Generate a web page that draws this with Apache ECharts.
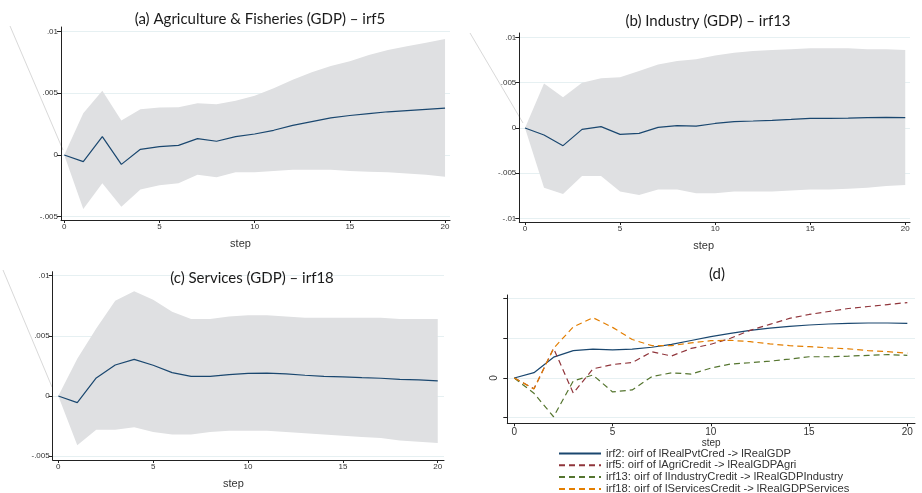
<!DOCTYPE html>
<html>
<head>
<meta charset="utf-8">
<script src="https://cdn.jsdelivr.net/npm/echarts@6/dist/echarts.min.js"></script>
<style>
html,body{margin:0;padding:0;background:#fff;}
#c{width:922px;height:493px;}
</style>
</head>
<body>
<div id="c"></div>
<script>
// ---- data ----
var steps = [0,1,2,3,4,5,6,7,8,9,10,11,12,13,14,15,16,17,18,19,20];
var xTicks = [0,5,10,15,20];
var yTicksAC = [-0.005,0,0.005,0.01];
var yTicksB = [-0.01,-0.005,0,0.005,0.01];
var yTicksD = [-0.002,0,0.002,0.004];
var yLabelsD = [0];

var titles = ['(a) Agriculture & Fisheries (GDP) \u2013 irf5','(b) Industry (GDP) \u2013 irf13','(c) Services (GDP) \u2013 irf18','(d)'];

var aIrf   = [0,-0.00054,0.00149,-0.00076,0.00046,0.00068,0.00078,0.00132,0.00111,0.00149,0.0017,0.002,0.0024,0.0027,0.003,0.0032,0.00335,0.0035,0.0036,0.0037,0.0038];
var aUpper = [0,0.00338,0.0052,0.0028,0.0037,0.00384,0.00386,0.0042,0.0041,0.0044,0.0048,0.0054,0.0061,0.0067,0.0072,0.0076,0.0081,0.0085,0.0088,0.0091,0.0094];
var aLower = [0,-0.00438,-0.0023,-0.0042,-0.0028,-0.00246,-0.0023,-0.0016,-0.0018,-0.0014,-0.0014,-0.0013,-0.0012,-0.0012,-0.0012,-0.0013,-0.00135,-0.0014,-0.0015,-0.0016,-0.00176];

var bIrf   = [0,-0.00077,-0.00195,-0.00015,0.00015,-0.0007,-0.0006,0.00007,0.00026,0.0002,0.0005,0.0007,0.00077,0.00085,0.00095,0.00107,0.00107,0.0011,0.00114,0.00118,0.00114];
var bUpper = [0,0.0049,0.0034,0.005,0.0055,0.0056,0.0063,0.007,0.0074,0.0076,0.008,0.0083,0.0085,0.0086,0.0087,0.0088,0.0088,0.0088,0.0087,0.0087,0.0086];
var bLower = [0,-0.0066,-0.0073,-0.0053,-0.0053,-0.007,-0.0074,-0.0068,-0.0068,-0.0072,-0.0072,-0.007,-0.007,-0.007,-0.0069,-0.0068,-0.0068,-0.0067,-0.0066,-0.0064,-0.0063];

var cIrf   = [0,-0.00055,0.0015,0.00257,0.00304,0.00255,0.00194,0.00163,0.00163,0.00177,0.00188,0.0019,0.00183,0.00172,0.00163,0.00158,0.00152,0.00147,0.00138,0.00133,0.00125];
var cUpper = [0,0.0031,0.0056,0.0079,0.0087,0.008,0.007,0.0064,0.0064,0.0066,0.0067,0.0067,0.0066,0.0065,0.0065,0.0065,0.0065,0.0065,0.0064,0.0064,0.0064];
var cLower = [0,-0.0041,-0.0028,-0.0028,-0.0026,-0.003,-0.0032,-0.0032,-0.003,-0.0029,-0.0029,-0.0029,-0.003,-0.0031,-0.0032,-0.0033,-0.0034,-0.0035,-0.0037,-0.0038,-0.0039];

var dIrf2  = [0,0.00027,0.00105,0.00138,0.00145,0.00142,0.00145,0.00155,0.00169,0.00189,0.00208,0.00225,0.0024,0.00251,0.0026,0.00267,0.00272,0.00275,0.00277,0.00277,0.00275];

var legendNames = [
  'irf2: oirf of lRealPvtCred -> lRealGDP',
  'irf5: oirf of lAgriCredit -> lRealGDPAgri',
  'irf13: oirf of lIndustryCredit -> lRealGDPIndustry',
  'irf18: oirf of lServicesCredit -> lRealGDPServices'
];

// ---- styling helpers ----
var NAVY = '#1a476f', MAROON = '#90353b', GREEN = '#55752f', ORANGE = '#e37e00';
var BAND = '#dfe0e2';
var TXT = '#333';
function pairs(arr){ return steps.map(function(s,i){ return [s, arr[i]]; }); }
function fmtY(v){ if (v === 0) return '0'; return String(v).replace('0.', '.'); }

var grids = [
  {left:61, top:27, width:389, height:193},
  {left:519.3, top:33, width:390.7, height:189},
  {left:52.7, top:271.7, width:391.3, height:188.3},
  {left:507.3, top:295, width:407.7, height:128.3}
];
var xRanges = [[-0.17,20.26],[-0.3,20.25],[-0.295,20.33],[-0.356,20.39]];
var yRanges = [[-0.00527,0.01037],[-0.01038,0.01049],[-0.00532,0.01032],[-0.00228,0.00418]];
var yTickSets = [yTicksAC, yTicksB, yTicksAC, yTicksD];
var namePad = [[0,30,0,0],[0,22,0,0],[0,30,0,0],[0,0,0,0]];
var nameGaps = [18,18,18,5];

var xAxes = [], yAxes = [];
for (var g = 0; g < 4; g++) {
  var isD = g === 3;
  xAxes.push({
    type:'value', gridIndex:g, min:xRanges[g][0], max:xRanges[g][1],
    name:'step', nameLocation:'middle', nameGap:nameGaps[g],
    nameTextStyle:{fontFamily:'Liberation Sans', fontSize: isD ? 10 : 11, color:TXT, padding:namePad[g]},
    axisLine:{show:true, onZero:false, lineStyle:{color:'#222', width:1}},
    axisTick:{show:true, length:3, customValues:xTicks, lineStyle:{color:'#222'}},
    axisLabel:{customValues:xTicks, margin: isD ? 4 : 3, fontFamily:'Liberation Sans', fontSize: isD ? 10 : 8, color:TXT},
    splitLine:{show:false}
  });
  yAxes.push({
    type:'value', gridIndex:g, min:yRanges[g][0], max:yRanges[g][1],
    axisLine:{show:true, onZero:false, lineStyle:{color:'#222', width:1}},
    axisTick:{show:true, length:4, customValues:yTickSets[g], lineStyle:{color:'#222'}},
    axisLabel: isD
      ? {customValues:yLabelsD, rotate:90, margin:8, fontFamily:'Liberation Sans', fontSize:10, color:TXT, formatter:fmtY}
      : {customValues:yTickSets[g], margin:3, fontFamily:'Liberation Sans', fontSize:8, color:TXT, formatter:fmtY},
    splitLine:{show:true, lineStyle:{color:'#e6f0f2', width:1}}
  });
}

var series = [];
function bandAndLine(g, lower, upper, irf){
  var rows = steps.map(function(s,i){ return [s, lower[i], upper[i]]; });
  series.push({
    type:'custom', xAxisIndex:g, yAxisIndex:g, data:rows, silent:true, z:1, clip:true,
    encode:{x:0, y:[1,2]},
    renderItem:function(params, api){
      if (params.dataIndex !== 0) return null;
      var pts = [];
      for (var i = 0; i < rows.length; i++) pts.push(api.coord([rows[i][0], rows[i][2]]));
      for (var j = rows.length - 1; j >= 0; j--) pts.push(api.coord([rows[j][0], rows[j][1]]));
      return {type:'polygon', shape:{points:pts}, style:{fill:BAND, stroke:null}};
    }
  });
  series.push({
    type:'line', xAxisIndex:g, yAxisIndex:g, data:pairs(irf), symbol:'none',
    lineStyle:{color:NAVY, width:1.2}, z:3
  });
}
bandAndLine(0, aLower, aUpper, aIrf);
bandAndLine(1, bLower, bUpper, bIrf);
bandAndLine(2, cLower, cUpper, cIrf);

var dData = [dIrf2, aIrf, bIrf, cIrf];
var dColors = [NAVY, MAROON, GREEN, ORANGE];
for (var k = 0; k < 4; k++) {
  series.push({
    type:'line', name:legendNames[k], xAxisIndex:3, yAxisIndex:3, data:pairs(dData[k]),
    symbol:'none', z:3,
    lineStyle:{color:dColors[k], width:1.2, type: k === 0 ? 'solid' : [6,4]},
    itemStyle:{color:dColors[k]}
  });
}

var titleCenters = [[255,7],[703,9],[247,266],[712,262]];
var titleOpts = titles.map(function(t,i){
  return {text:t, left:titleCenters[i][0], top:titleCenters[i][1], textAlign:'center',
    textStyle:{fontFamily:'Lato', fontWeight:'normal', fontSize:15, color:'#1a1a1a'}};
});

var chart = echarts.init(document.getElementById('c'), null, {renderer:'canvas'});
chart.setOption({
  animation:false,
  backgroundColor:'#fff',
  title:titleOpts,
  grid:grids,
  xAxis:xAxes,
  yAxis:yAxes,
  legend:{
    data:legendNames, orient:'vertical', left:558, top:448, height:60, padding:0,
    itemWidth:42, itemHeight:8, itemGap:0.8,
    itemStyle:{opacity:0},
    textStyle:{fontFamily:'Liberation Sans', fontSize:11.2, lineHeight:10, color:TXT},
    selectedMode:false
  },
  graphic:[
    {type:'line', shape:{x1:10,y1:26,x2:63,y2:150}, style:{stroke:'#d9d9d9', lineWidth:1}, silent:true},
    {type:'line', shape:{x1:470,y1:33,x2:523,y2:123}, style:{stroke:'#d9d9d9', lineWidth:1}, silent:true},
    {type:'line', shape:{x1:3,y1:270,x2:52,y2:387}, style:{stroke:'#d9d9d9', lineWidth:1}, silent:true}
  ],
  series:series
});
</script>
</body>
</html>
